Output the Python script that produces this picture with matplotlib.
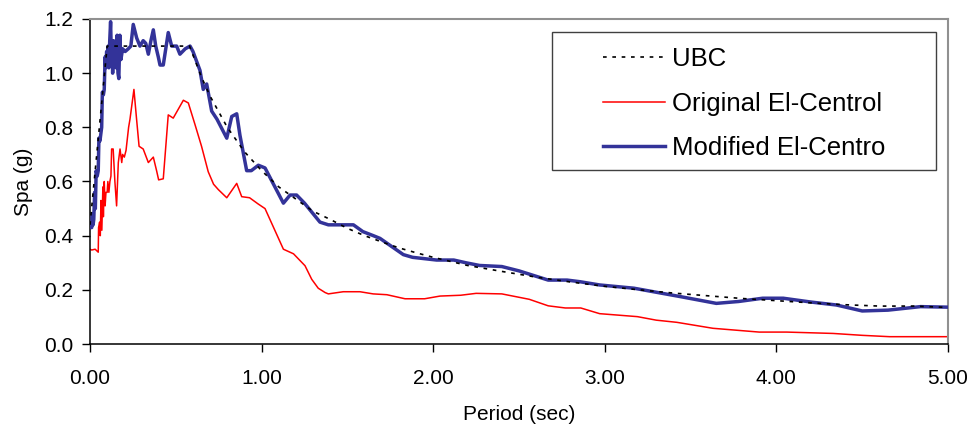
import matplotlib
matplotlib.use("Agg")
import matplotlib.pyplot as plt
from matplotlib.patches import Rectangle

plt.rcParams['font.family'] = ['Liberation Sans', 'DejaVu Sans']

# UBC design spectrum
ubc_T = [0.0, 0.10, 0.58, 0.65, 0.70, 0.80, 0.90, 1.00, 1.10, 1.20, 1.30, 1.40,
         1.50, 1.60, 1.70, 1.80, 1.90, 2.00, 2.20, 2.40, 2.60, 2.80, 3.00, 3.20,
         3.40, 3.60, 3.80, 4.00, 4.20, 4.40, 4.60, 4.80, 5.00]
ubc_S = [0.44, 1.10, 1.10, 0.985, 0.915, 0.80, 0.71, 0.64, 0.58, 0.535, 0.49, 0.46,
         0.427, 0.40, 0.377, 0.355, 0.337, 0.32, 0.29, 0.268, 0.247, 0.229, 0.213, 0.20,
         0.188, 0.178, 0.168, 0.16, 0.152, 0.145, 0.14, 0.14, 0.135]

# original El-Centro record
orig_T = [0.000, 0.010, 0.030, 0.048, 0.050, 0.056, 0.060, 0.064, 0.069, 0.075,
          0.078, 0.083, 0.088, 0.093, 0.100, 0.104, 0.110, 0.116, 0.122, 0.126,
          0.135, 0.145, 0.155, 0.165, 0.175, 0.185, 0.190, 0.200, 0.210, 0.225,
          0.233, 0.256, 0.270, 0.286, 0.310, 0.340, 0.369, 0.388, 0.400, 0.427,
          0.456, 0.485, 0.544, 0.573, 0.612, 0.650, 0.689, 0.720, 0.748, 0.797,
          0.855, 0.884, 0.930, 0.980, 1.020, 1.127, 1.186, 1.253, 1.292, 1.330,
          1.370, 1.389, 1.476, 1.573, 1.650, 1.730, 1.836, 1.950, 2.040, 2.160,
          2.250, 2.400, 2.560, 2.670, 2.770, 2.860, 2.970, 3.190, 3.300, 3.420,
          3.630, 3.900, 4.060, 4.330, 4.500, 4.660, 5.000]
orig_S = [0.350, 0.347, 0.350, 0.339, 0.430, 0.450, 0.400, 0.530, 0.420, 0.580,
          0.470, 0.600, 0.510, 0.560, 0.560, 0.600, 0.560, 0.600, 0.620, 0.720,
          0.720, 0.600, 0.510, 0.670, 0.720, 0.670, 0.700, 0.690, 0.715, 0.800,
          0.830, 0.940, 0.840, 0.730, 0.720, 0.670, 0.690, 0.640, 0.606, 0.610,
          0.846, 0.834, 0.900, 0.890, 0.810, 0.730, 0.636, 0.590, 0.570, 0.540,
          0.593, 0.544, 0.540, 0.517, 0.500, 0.350, 0.333, 0.289, 0.239, 0.206,
          0.190, 0.185, 0.193, 0.193, 0.185, 0.182, 0.167, 0.167, 0.177, 0.180,
          0.187, 0.185, 0.165, 0.141, 0.133, 0.133, 0.112, 0.101, 0.088, 0.080,
          0.058, 0.044, 0.044, 0.039, 0.032, 0.027, 0.027]

# modified El-Centro record
mod_T = [0.000, 0.010, 0.014, 0.018, 0.022, 0.027, 0.031, 0.036, 0.042, 0.048,
         0.052, 0.058, 0.064, 0.068, 0.072, 0.078, 0.083, 0.088, 0.092, 0.097,
         0.101, 0.106, 0.110, 0.115, 0.120, 0.124, 0.128, 0.132, 0.137, 0.142,
         0.147, 0.152, 0.158, 0.163, 0.168, 0.174, 0.180, 0.190, 0.205, 0.223,
         0.238, 0.252, 0.272, 0.291, 0.310, 0.325, 0.340, 0.355, 0.369, 0.383,
         0.398, 0.408, 0.427, 0.456, 0.476, 0.505, 0.524, 0.555, 0.583, 0.600,
         0.641, 0.660, 0.680, 0.709, 0.740, 0.797, 0.826, 0.855, 0.874, 0.913,
         0.940, 0.981, 1.020, 1.127, 1.166, 1.204, 1.250, 1.340, 1.389, 1.535,
         1.590, 1.651, 1.690, 1.826, 1.880, 2.020, 2.120, 2.190, 2.270, 2.400,
         2.500, 2.670, 2.780, 2.855, 2.970, 3.170, 3.440, 3.650, 3.780, 3.920,
         4.040, 4.200, 4.350, 4.500, 4.650, 4.840, 5.000]
mod_S = [0.43, 0.43, 0.48, 0.44, 0.46, 0.56, 0.50, 0.64, 0.62, 0.64,
         0.76, 0.75, 0.78, 0.80, 0.93, 0.92, 0.94, 1.06, 1.02, 1.08,
         1.03, 1.10, 1.02, 1.12, 1.19, 1.08, 1.12, 1.00, 1.12, 1.03,
         1.10, 1.02, 1.14, 1.00, 0.98, 1.14, 1.05, 1.09, 1.08, 1.09,
         1.10, 1.18, 1.13, 1.10, 1.12, 1.11, 1.07, 1.12, 1.16, 1.10,
         1.06, 1.03, 1.03, 1.15, 1.10, 1.10, 1.07, 1.09, 1.10, 1.08,
         1.01, 0.94, 0.96, 0.86, 0.83, 0.76, 0.84, 0.85, 0.77, 0.64,
         0.64, 0.66, 0.65, 0.52, 0.55, 0.55, 0.52, 0.45, 0.44, 0.44,
         0.415, 0.40, 0.39, 0.33, 0.32, 0.31, 0.31, 0.30, 0.29, 0.286,
         0.27, 0.236, 0.236, 0.23, 0.218, 0.206, 0.175, 0.15, 0.157, 0.169,
         0.169, 0.155, 0.144, 0.122, 0.125, 0.138, 0.136]

xticks = [0, 1, 2, 3, 4, 5]
yticks = [0.0, 0.2, 0.4, 0.6, 0.8, 1.0, 1.2]

fig = plt.figure(figsize=(9.74, 4.28), dpi=100)
ax = fig.add_axes([90 / 974, 1 - 344 / 428, 858 / 974, 325 / 428])

l_orig, = ax.plot(orig_T, orig_S, color='#ff0000', lw=1.1, zorder=2)
l_mod, = ax.plot(mod_T, mod_S, color='#333399', lw=2.5, zorder=3,
                 solid_joinstyle='round')
l_ubc, = ax.plot(ubc_T, ubc_S, color='black', lw=1.2, ls=(0, (2.2, 3.4)), zorder=4)

ax.set_xlim(0, 5)
ax.set_ylim(0, 1.2)
ax.set_xticks(xticks)
ax.set_xticklabels(['%.2f' % t for t in xticks])
ax.set_yticks(yticks)
ax.set_yticklabels(['%.1f' % t for t in yticks])
ax.tick_params(direction='out', length=6, width=1, labelsize=15, colors='black', pad=6)
ax.tick_params(axis='x', pad=12)
ax.set_xlabel('Period (sec)', fontsize=15, labelpad=12)
ax.set_ylabel('Spa (g)', fontsize=15, labelpad=8)

for s in ['left', 'bottom']:
    ax.spines[s].set_color('black')
    ax.spines[s].set_linewidth(1.1)
for s in ['top', 'right']:
    ax.spines[s].set_color('#909090')
    ax.spines[s].set_linewidth(1.5)

leg = fig.legend([l_ubc, l_orig, l_mod], ['UBC', 'Original El-Centrol', 'Modified El-Centro'],
                 loc='upper left', bbox_to_anchor=(603 / 974, 1 - 47 / 428),
                 frameon=False, fontsize=18.5, handlelength=2.4, handletextpad=0.3,
                 labelspacing=0.8, borderpad=0, borderaxespad=0)
fig.add_artist(Rectangle((552 / 974, 1 - 170 / 428), 384 / 974, 138 / 428,
                         transform=fig.transFigure, fill=True, facecolor='white',
                         edgecolor='#404040', lw=1.0, zorder=1))
leg.set_zorder(5)

fig.savefig('out.png', dpi=100)
